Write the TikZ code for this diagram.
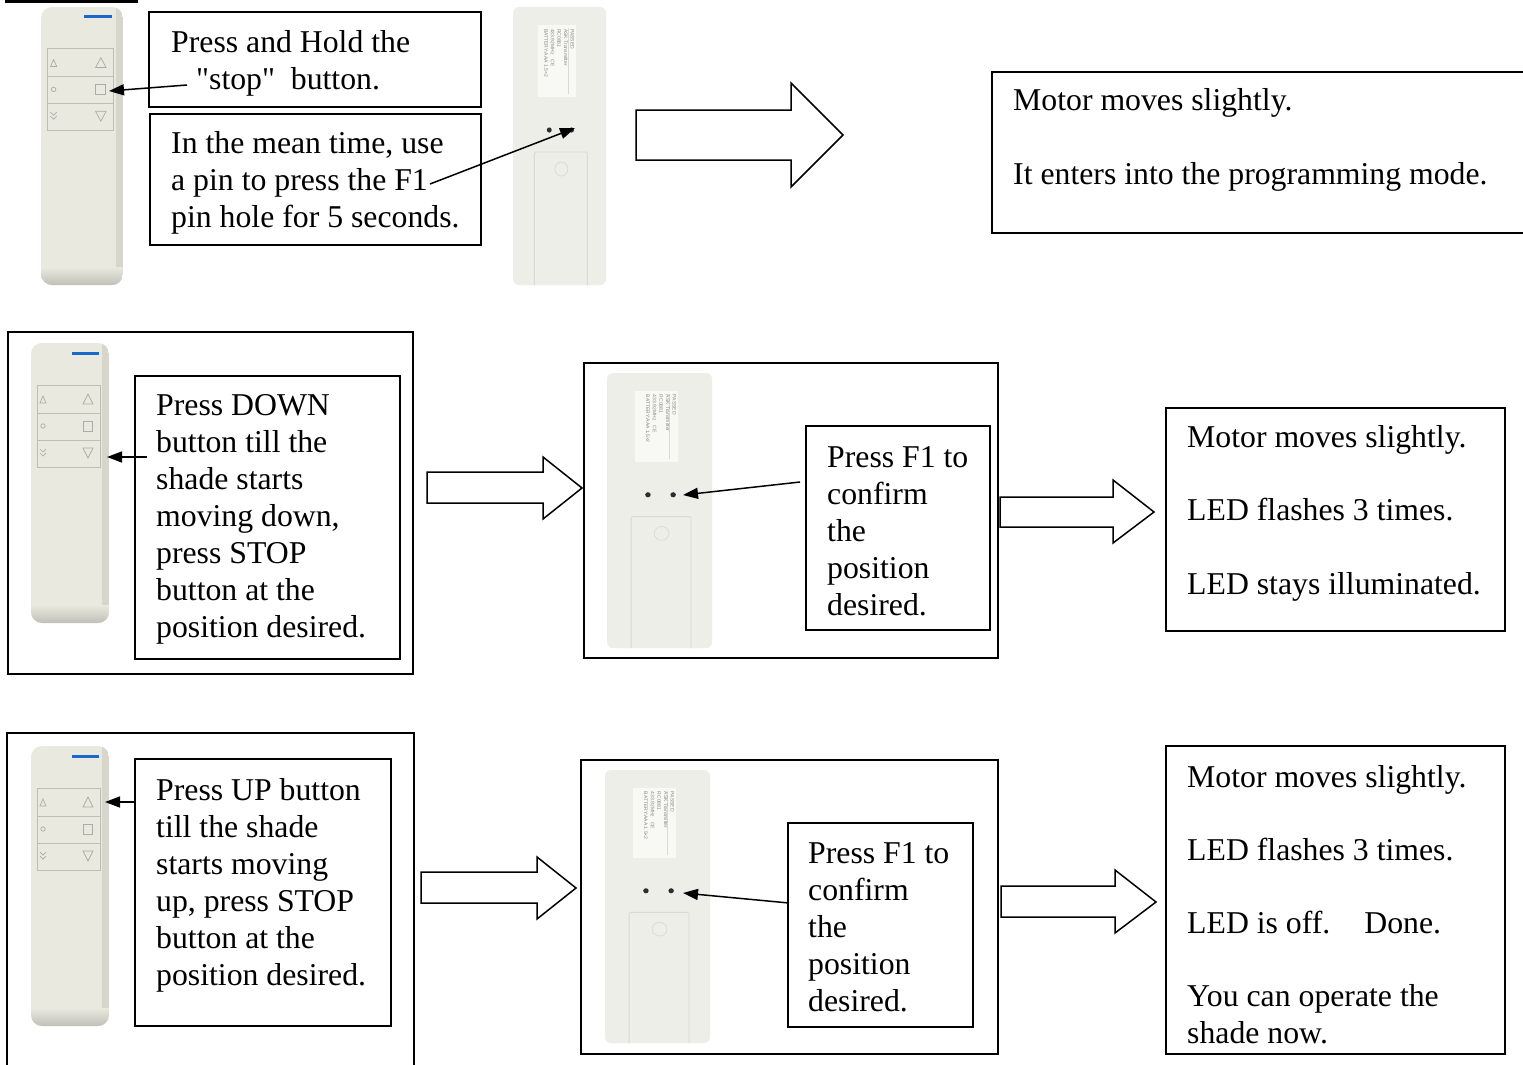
\documentclass[tikz,border=0pt]{standalone}
\usepackage{fontspec}
\setmainfont{Liberation Serif}
\newfontfamily\labelfont{Liberation Sans}
\usetikzlibrary{arrows.meta,fit}
\definecolor{rfill}{RGB}{233,233,223}
\definecolor{rside}{RGB}{214,214,205}
\definecolor{rshadow}{RGB}{192,192,184}
\definecolor{rpanel}{RGB}{190,190,183}
\definecolor{ricon}{RGB}{172,172,165}
\definecolor{rblue}{RGB}{25,105,205}
\definecolor{bfill}{RGB}{238,238,233}
\definecolor{bedge}{RGB}{218,218,211}
\definecolor{blabel}{RGB}{248,248,245}
\definecolor{btext}{RGB}{135,135,132}
\definecolor{bhole}{RGB}{45,45,45}

\newcommand\bodyfont{\fontsize{31.75pt}{37pt}\selectfont}
\newcommand\firstline{\rule{0pt}{24pt}}

% front of the remote: x, y, xscale, yscale
\newcommand\frontremote[4]{%
\begin{scope}[shift={(#1,#2)},xscale=#3,yscale=#4]
  \begin{scope}
    \clip[rounded corners=11pt] (0,0) rectangle (78,280);
    \fill[rfill] (0,0) rectangle (78,280);
    \fill[rside] (71,0) rectangle (78,280);
    \shade[top color=rfill,bottom color=rshadow] (0,262) rectangle (78,280);
  \end{scope}
  \draw[rblue,line width=3pt] (41,10) -- (68,10);
  \draw[rpanel,line width=0.8pt] (6,42) rectangle (69,124) (6,70) -- (69,70) (6,97) -- (69,97);
  \draw[ricon,line width=0.7pt] (9,60) -- (12,53) -- (15,60) -- cycle;
  \draw[ricon,line width=0.7pt] (12,83) circle (2.2);
  \draw[ricon,line width=0.7pt] (9,106) -- (12,109) -- (15,106) (9,110) -- (12,113) -- (15,110);
  \draw[ricon,line width=0.7pt] (52,61) -- (57,51) -- (62,61) -- cycle;
  \draw[ricon,line width=0.7pt] (52,78) rectangle (61,88);
  \draw[ricon,line width=0.7pt] (52,105) -- (57,115) -- (62,105) -- cycle;
\end{scope}}

% back of the remote: x, y, xscale, yscale, label node name
\newcommand\backremote[5]{%
\begin{scope}[shift={(#1,#2)},xscale=#3,yscale=#4]
  \fill[bfill,rounded corners=6pt] (0,0) rectangle (100,278);
  \fill[blabel] (27,18) rectangle (68,90);
  \draw[bedge,line width=0.5pt] (59,21) -- (59,87);
  \node[rotate=-90,anchor=north west,inner sep=0pt,text=btext,align=left,
        font=\labelfont\fontsize{5pt}{6.6pt}\selectfont] (#5) at (66,22)
        {PASSED\\ASK Transmitter\\RC0881\\433.92MHz\quad CE\\BATTERY:AAA 1.5×2};
  \fill[bhole] (39,123) circle (2.6) (63,123) circle (2.6);
  \draw[bedge,line width=0.9pt,rounded corners=2pt] (23,278) -- (23,145) -- (80,145) -- (80,278);
  \draw[bedge,line width=0.7pt] (52,162) circle (7);
\end{scope}}

\tikzset{
  boxst/.style={draw,line width=1.5pt,inner sep=0pt},
  txt/.style={anchor=north west,inner sep=0pt,align=left,font=\bodyfont},
  ptr/.style={line width=1.5pt,-{Triangle[length=15pt,width=11pt]}},
  bigarrow/.style={draw,fill=white,line width=1.5pt,line join=miter}
}

\begin{document}
\begin{tikzpicture}[x=1pt,y=-1pt]
\useasboundingbox (0,0) rectangle (1523,1065);
\clip (0,0) rectangle (1523,1065);
\fill[white] (0,0) rectangle (1523,1065);

% heading underline (cut off at top)
\fill[black] (5,0) rectangle (138,3.5);

% ---------------- Row 1 ----------------
\frontremote{41}{7}{1.05}{0.993}
\backremote{513}{7}{0.93}{1.0}{lab1}

\node[boxst,fit={(149,12) (481,107)}] (b1) {};
\node[txt] (t1) at (171,28) {\firstline Press and Hold the\\\hspace*{25pt}\textquotedbl stop\textquotedbl\ \ button.};
\node[boxst,fit={(150,114) (481,245)}] (b2) {};
\node[txt] (t2) at (171,129) {\firstline In the mean time, use\\a pin to press the F1\\pin hole for 5 seconds.};

\coordinate (s1) at (187,85);
\coordinate (e1) at (109,91);
\draw[ptr] (s1) -- (e1);
\coordinate (s2) at (430,184);
\coordinate (e2) at (575,128);
\draw[ptr] (s2) -- (e2);

\draw[bigarrow] (636,110) -- (791,110) -- (791,83) -- (843,135) -- (791,187) -- (791,160) -- (636,160) -- cycle;

\node[boxst,fit={(992,72) (1535,233)}] (c1) {};
\node[txt] (tc1) at (1013,86) {\firstline Motor moves slightly.\\[37pt]It enters into the programming mode.};

% ---------------- Row 2 ----------------
\node[boxst,fit={(8,332) (413,674)}] (o2) {};
\frontremote{31}{343}{1.0}{1.0}
\node[boxst,fill=white,fit={(135,376) (400,659)}] (i2) {};
\node[txt] (t3) at (156,391) {\firstline Press DOWN\\button till the\\shade starts\\moving down,\\press STOP\\button at the\\position desired.};
\coordinate (s3) at (147,457);
\coordinate (e3) at (107,457);
\draw[ptr] (s3) -- (e3);

\draw[bigarrow] (427,472) -- (543,472) -- (543,457) -- (582,488) -- (543,519) -- (543,503) -- (427,503) -- cycle;

\node[boxst,fit={(584,363) (998,658)}] (m2) {};
\backremote{607}{373}{1.05}{0.99}{lab2}
\node[boxst,fill=white,fit={(806,426) (990,630)}] (j2) {};
\node[txt] (t4) at (827,443) {\firstline Press F1 to\\confirm\\the\\position\\desired.};
\coordinate (s4) at (800,482);
\coordinate (e4) at (683,495);
\draw[ptr] (s4) -- (e4);

\draw[bigarrow] (1000,497) -- (1113,497) -- (1113,480) -- (1154,512) -- (1113,543) -- (1113,527) -- (1000,527) -- cycle;

\node[boxst,fit={(1166,408) (1505,631)}] (r2) {};
\node[txt] (t5) at (1187,423) {\firstline Motor moves slightly.\\[36.5pt]LED flashes 3 times.\\[36.5pt]LED stays illuminated.};

% ---------------- Row 3 ----------------
\node[boxst,fit={(7,733) (414,1075)}] (o3) {};
\frontremote{31}{746}{1.0}{1.0}
\node[boxst,fill=white,fit={(135,759) (391,1026)}] (i3) {};
\node[txt] (t6) at (156,776) {\firstline Press UP button\\till the shade\\starts moving\\up, press STOP\\button at the\\position desired.};
\coordinate (s5) at (135,802);
\coordinate (e5) at (105,802);
\draw[ptr] (s5) -- (e5);

\draw[bigarrow] (421,872) -- (537,872) -- (537,857) -- (576,888) -- (537,919) -- (537,903) -- (421,903) -- cycle;

\node[boxst,fit={(581,760) (998,1054)}] (m3) {};
\backremote{605}{770}{1.05}{0.982}{lab3}
\node[boxst,fill=white,fit={(788,823) (973,1027)}] (j3) {};
\node[txt] (t7) at (808,839) {\firstline Press F1 to\\confirm\\the\\position\\desired.};
\coordinate (s6) at (789,903);
\coordinate (e6) at (683,893);
\draw[ptr] (s6) -- (e6);

\draw[bigarrow] (1001,886) -- (1115,886) -- (1115,870) -- (1156,902) -- (1115,933) -- (1115,917) -- (1001,917) -- cycle;

\node[boxst,fit={(1166,746) (1505,1054)}] (r3) {};
\node[txt] (t8) at (1187,763) {\firstline Motor moves slightly.\\[36pt]LED flashes 3 times.\\[36pt]LED is off.\hspace{34pt}Done.\\[36pt]You can operate the\\shade now.};
\end{tikzpicture}
\end{document}
